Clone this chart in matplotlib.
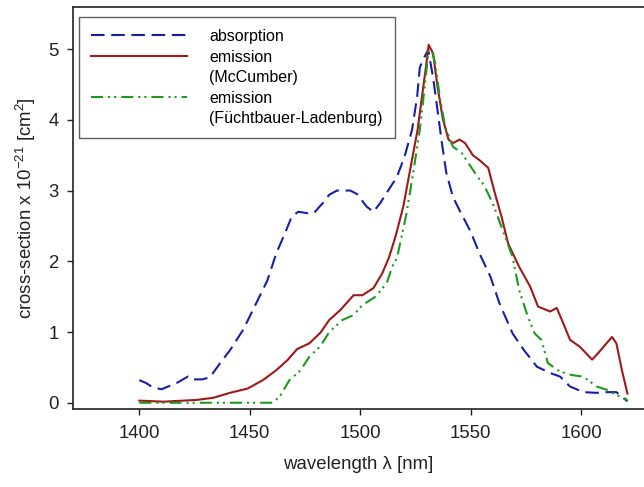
import matplotlib.pyplot as plt
from matplotlib.lines import Line2D

plt.rcParams['font.family'] = ['Liberation Sans', 'DejaVu Sans']
plt.rcParams['mathtext.default'] = 'regular'

# absorption cross-section
abs_wl = [1400, 1403, 1406, 1410, 1417, 1422, 1424, 1428.5, 1432, 1436.6, 1441, 1447, 1453,
          1458, 1462, 1466, 1469, 1472, 1476, 1479, 1483, 1486, 1489.5, 1495.5, 1498.6, 1503,
          1506, 1509, 1512.7, 1516.6, 1520, 1523.5, 1525.8, 1527, 1528.5, 1530.8, 1533, 1535,
          1537, 1539, 1542, 1545, 1550, 1554, 1559, 1563, 1569, 1574, 1580, 1586, 1590.5,
          1595, 1601, 1607, 1612, 1616, 1621]
abs_cs = [0.32, 0.28, 0.22, 0.19, 0.28, 0.37, 0.33, 0.33, 0.36, 0.56, 0.74, 1.03, 1.41,
          1.73, 2.11, 2.4, 2.63, 2.70, 2.68, 2.68, 2.82, 2.94, 3.0, 3.0, 2.95, 2.77,
          2.70, 2.82, 3.0, 3.19, 3.47, 3.86, 4.33, 4.74, 4.85, 4.99, 4.6, 4.14,
          3.67, 3.25, 2.91, 2.72, 2.42, 2.11, 1.78, 1.41, 0.98, 0.75, 0.51, 0.42, 0.37,
          0.23, 0.15, 0.14, 0.15, 0.15, 0.02]

# emission (McCumber)
mc_wl = [1400, 1411, 1426, 1433.5, 1441, 1449, 1456, 1462, 1467, 1471.5, 1477, 1482, 1486,
         1491, 1497, 1501, 1506, 1510, 1513, 1516, 1519.5, 1522.6, 1526, 1528, 1530, 1531,
         1533, 1535, 1537.5, 1540, 1542, 1545, 1547.5, 1551, 1554, 1558, 1561, 1564, 1567,
         1572, 1577, 1580.5, 1586, 1589, 1592, 1595, 1599.5, 1605, 1607.7, 1611, 1614, 1616,
         1618.5, 1621]
mc_cs = [0.03, 0.015, 0.04, 0.07, 0.14, 0.2, 0.32, 0.46, 0.6, 0.76, 0.84, 0.99, 1.17,
         1.31, 1.52, 1.52, 1.62, 1.83, 2.05, 2.35, 2.77, 3.29, 3.86, 4.33, 4.80, 5.06,
         4.94, 4.47, 4.0, 3.72, 3.67, 3.72, 3.67, 3.50, 3.43, 3.32, 2.96, 2.63, 2.25,
         1.92, 1.64, 1.36, 1.29, 1.34, 1.12, 0.89, 0.79, 0.61, 0.70, 0.82, 0.93, 0.84,
         0.46, 0.13]

# emission (Fuechtbauer-Ladenburg)
fl_wl = [1400, 1430, 1460.6, 1464, 1468, 1473, 1477, 1482, 1486, 1492, 1497, 1501, 1507,
         1512, 1514.5, 1516.7, 1521, 1524, 1527, 1529.4, 1531, 1532.6, 1534, 1536, 1538.5,
         1542, 1546, 1550, 1553, 1556, 1560, 1565, 1569, 1572, 1576, 1579, 1582, 1585,
         1590.5, 1596, 1601, 1607, 1612, 1616, 1621]
fl_cs = [0.0, 0.0, 0.0, 0.11, 0.32, 0.46, 0.65, 0.80, 1.0, 1.17, 1.24, 1.38, 1.5,
         1.69, 1.92, 2.05, 2.68, 3.25, 3.86, 4.52, 4.99, 4.96, 4.8, 4.33, 3.9,
         3.62, 3.53, 3.34, 3.2, 3.08, 2.82, 2.4, 2.06, 1.59, 1.21, 0.98, 0.89, 0.56,
         0.44, 0.39, 0.37, 0.23, 0.18, 0.11, 0.04]

blue = '#1420a8'
red = '#a01818'
green = '#1c9a1c'
abs_dash = (6.5, 3.2)
fl_dash = (5.8, 2.4, 1.0, 1.9, 1.0, 2.4)

fig = plt.figure(figsize=(6.44, 4.87), dpi=100)
ax = fig.add_axes([0.1134, 0.1595, 0.8866, 0.8255])

ax.plot(abs_wl, abs_cs, color=blue, lw=1.5, dashes=abs_dash)
ax.plot(mc_wl, mc_cs, color=red, lw=1.5)
ax.plot(fl_wl, fl_cs, color=green, lw=1.5, dashes=fl_dash)

ax.set_xlim(1370, 1628.5)
ax.set_ylim(-0.093, 5.59)
ax.set_xticks([1400, 1450, 1500, 1550, 1600])
ax.set_yticks([0, 1, 2, 3, 4, 5])
ax.tick_params(direction='out', length=4.5, width=1, labelsize=13.4, colors='#222222')
ax.tick_params(axis='x', pad=7)
ax.tick_params(axis='y', pad=6)
ax.spines['right'].set_visible(False)
for s in ['left', 'bottom', 'top']:
    ax.spines[s].set_linewidth(1.2)
    ax.spines[s].set_color('#222222')

ax.set_xlabel('wavelength λ [nm]', fontsize=13.4, color='#222222', labelpad=10)
ax.set_ylabel('cross-section x 10$^{-21}$ [cm$^{2}$]', fontsize=13.4, color='#222222',
              labelpad=7)

blank = Line2D([], [], alpha=0)
handles = [
    Line2D([], [], color=blue, lw=1.5, dashes=abs_dash),
    Line2D([], [], color=red, lw=1.5),
    blank,
    Line2D([], [], color=green, lw=1.5, dashes=fl_dash),
    blank,
]
labels = ['absorption', 'emission', '(McCumber)', 'emission', '(Füchtbauer-Ladenburg)']
leg = ax.legend(handles, labels, loc='upper left', bbox_to_anchor=(0.0105, 0.976),
                borderaxespad=0, fontsize=11.5, handlelength=6.0, handletextpad=1.4,
                labelspacing=0.35, borderpad=0.75, fancybox=False, framealpha=1)
leg.get_frame().set_edgecolor('#606060')
leg.get_frame().set_linewidth(1)

fig.savefig('out.png', dpi=100)
